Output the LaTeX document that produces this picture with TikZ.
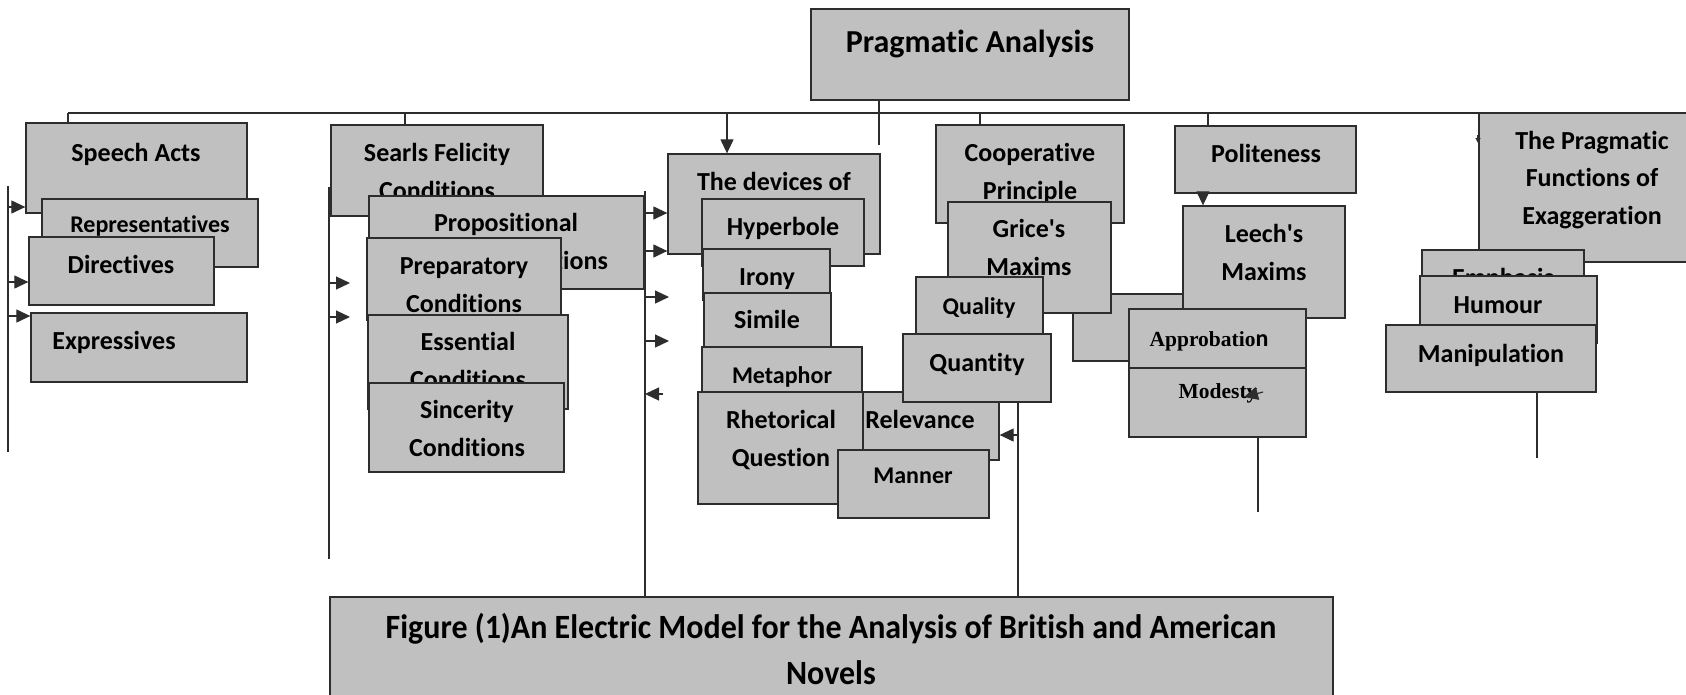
\documentclass[tikz,border=0pt]{standalone}
\usepackage{fontspec}
\setmainfont{Carlito}[Ligatures={TeX,NoCommon}]
\newfontfamily\timesb{Liberation Serif}
\newfontfamily\capfont{Carlito}[FakeStretch=0.94,Ligatures={TeX,NoCommon}]
\usetikzlibrary{arrows.meta,fit}

\definecolor{boxgray}{RGB}{192,192,192}
\definecolor{edge}{RGB}{45,45,45}

\newcommand\apos{\textquotesingle}

\tikzset{
  box/.style={draw=edge, fill=boxgray, line width=1.3pt, inner sep=0pt},
  lbl/.style={font=\bfseries\fontsize{26}{37.5}\selectfont, align=center, anchor=base, inner sep=0pt},
  sml/.style={lbl, font=\bfseries\fontsize{24}{30}\selectfont},
  conn/.style={draw=edge, line width=1.2pt},
  arr/.style={conn, -{Triangle[length=14pt,width=13pt]}},
}

\begin{document}
\begin{tikzpicture}[x=1pt, y=-1pt]
\useasboundingbox (0,0) rectangle (1686,694);

% bus lines
\coordinate (topL) at (68,113);
\coordinate (busA) at (8,186);
\coordinate (busB) at (329,187);
\coordinate (busC) at (645,191);
\draw[conn] (busA) -- (8,452);
\draw[conn] (busB) -- (329,559);

% top box
\node[box, fit={(811,9) (1129,100)}] (prag) {};
\node[lbl, font=\bfseries\fontsize{32}{38}\selectfont] (prag-t) at (970,52) {Pragmatic Analysis};

% speech acts
\node[box, fit={(26,123) (247,213)}] (speech) {};
\node[lbl] (speech-t) at (136,161) {Speech Acts};
\node[box, fit={(42,199) (258,267)}] (repr) {};
\node[sml] (repr-t) at (150,232) {Representatives};
\node[box, fit={(29,237) (214,305)}] (direct) {};
\node[lbl] (direct-t) at (121,273) {Directives};
\node[box, fit={(31,313) (247,382)}] (expr) {};
\node[lbl] (expr-t) at (114,349) {Expressives};

% felicity conditions (base = last line)
\node[box, fit={(331,125) (543,216)}] (searls) {};
\node[lbl] (searls-t) at (437,199) {Searls Felicity\\Conditions};
\node[box, fit={(369,196) (644,289)}] (propo) {};
\node[lbl] (propo-t) at (506,269) {Propositional\\\hspace*{88pt}Conditions};
\node[box, fit={(367,238) (561,320)}] (prep) {};
\node[lbl] (prep-t) at (464,312) {Preparatory\\Conditions};
\node[box, fit={(368,315) (568,409)}] (essen) {};
\node[lbl] (essen-t) at (468,388) {Essential\\Conditions};
\node[box, fit={(369,383) (564,472)}] (since) {};
\node[lbl] (since-t) at (467,456) {Sincerity\\Conditions};

% devices
\node[box, fit={(668,154) (880,254)}] (devices) {};
\node[lbl] (devices-t) at (774,190) {The devices of};
\node[box, fit={(702,199) (864,266)}] (hyper) {};
\node[lbl] (hyper-t) at (783,235) {Hyperbole};
\node[box, fit={(703,249) (830,300)}] (irony) {};
\node[lbl] (irony-t) at (767,285) {Irony};
\node[box, fit={(704,293) (831,347)}] (simile) {};
\node[lbl] (simile-t) at (767,328) {Simile};
\node[box, fit={(702,347) (862,400)}] (metaph) {};
\node[sml] (metaph-t) at (782,383) {Metaphor};
\node[box, fit={(841,392) (999,460)}] (relev) {};
\node[lbl] (relev-t) at (920,428) {Relevance};
\node[box, fit={(698,392) (863,504)}] (rhet) {};
\node[lbl] (rhet-t) at (781,466) {Rhetorical\\Question};
\node[box, fit={(838,450) (989,518)}] (manner) {};
\node[sml] (manner-t) at (913,483) {Manner};

% cooperative principle
\node[box, fit={(936,125) (1124,223)}] (coop) {};
\node[lbl] (coop-t) at (1030,199) {Cooperative\\Principle};
\node[box, fit={(1073,294) (1200,361)}] (blank) {};
\node[box, fit={(948,202) (1111,313)}] (grice) {};
\node[lbl] (grice-t) at (1029,275) {Grice\apos s\\Maxims};
\node[box, fit={(916,277) (1043,340)}] (quality) {};
\node[sml] (quality-t) at (979,314) {Quality};
\node[box, fit={(903,334) (1051,402)}] (quant) {};
\node[lbl] (quant-t) at (977,371) {Quantity};

% politeness
\node[box, fit={(1175,126) (1356,193)}] (polite) {};
\node[lbl] (polite-t) at (1266,162) {Politeness};
\node[box, fit={(1183,206) (1345,318)}] (leech) {};
\node[lbl] (leech-t) at (1264,280) {Leech\apos s\\Maxims};
\node[box, fit={(1129,309) (1306,368)}] (approb) {};
\node[sml] (approb-t) at (1209,346) {{\timesb\fontsize{21.5}{24}\selectfont Approbatio}n};
\node[box, fit={(1129,368) (1306,437)}] (modest) {};
\node[sml] (modest-t) at (1218,398) {\timesb\fontsize{21.5}{24}\selectfont Modesty};

% functions of exaggeration
\node[box, fit={(1479,113) (1700,262)}] (func) {};
\node[lbl] (func-t) at (1592,224) {The Pragmatic\\Functions of\\Exaggeration};
\node[box, fit={(1422,250) (1584,290)}] (emph) {};
\node[lbl] (emph-t) at (1503,286) {Emphasis};
\node[box, fit={(1420,276) (1597,343)}] (humour) {};
\node[lbl] (humour-t) at (1498,313) {Humour};
\node[box, fit={(1386,325) (1596,392)}] (manip) {};
\node[lbl] (manip-t) at (1491,362) {Manipulation};

% caption
\node[box, fit={(330,597) (1333,705)}] (cap) {};
\node[lbl, font=\capfont\bfseries\fontsize{34}{46}\selectfont] (cap-t) at (831,684)
  {Figure (1)An Electric Model for the Analysis of British and American\\Novels};

% connectors
\draw[conn] (topL) -- (topL -| func.west);
\draw[conn] (topL) -- (topL |- speech.north);
\coordinate (t2) at (405,113);
\draw[conn] (t2) -- (t2 |- searls.north);
\coordinate (t3) at (980,113);
\draw[conn] (t3) -- (t3 |- coop.north);
\coordinate (t4) at (1208,113);
\draw[conn] (t4) -- (t4 |- polite.north);
\coordinate (pv) at (879,145);
\draw[conn] (pv |- prag.south) -- (pv);
\coordinate (d0) at (727,113);
\draw[arr] (d0) -- (d0 |- devices.north);
\coordinate (p1) at (1203,0);
\draw[arr] (p1 |- polite.south) -- (p1 |- leech.north);

\draw[conn] (busC) -- (busC |- cap.north);
\coordinate (qv) at (1018,0);
\draw[conn] (qv |- quant.south) -- (qv |- cap.north);
\coordinate (r0) at (1018,435);
\draw[arr] (r0) -- (r0 -| relev.east);
\coordinate (mo) at (1258,512);
\draw[conn] (mo |- modest.south) -- (mo);
\coordinate (mv) at (1537,458);
\draw[conn] (mv |- manip.south) -- (mv);

% arrows from the bus lines
\coordinate (a1) at (8,207);
\draw[arr] (a1) -- (a1 -| speech.west);
\coordinate (a2) at (8,282);
\draw[arr] (a2) -- (a2 -| direct.west);
\coordinate (a3) at (8,316);
\draw[arr] (a3) -- (a3 -| expr.west);
\coordinate (b1) at (329,283);
\draw[arr] (b1) -- (350,283);
\coordinate (b2) at (329,317);
\draw[arr] (b2) -- (350,317);
\coordinate (c1) at (645,213);
\draw[arr] (c1) -- (c1 -| devices.west);
\coordinate (c2) at (645,251);
\draw[arr] (c2) -- (c2 -| devices.west);
\coordinate (c3) at (645,297);
\draw[arr] (c3) -- (669,297);
\coordinate (c4) at (645,341);
\draw[arr] (c4) -- (669,341);
\coordinate (c5) at (663,394);
\draw[arr] (c5) -- (c5 -| busC);

% stray tips
\coordinate (s1) at (1263,392);
\draw[arr] (s1) -- (1244,397);
\coordinate (s2) at (1478,135);
\draw[conn, -{Triangle[length=5pt,width=5pt]}] (s2) -- (1478,143);
\end{tikzpicture}
\end{document}
